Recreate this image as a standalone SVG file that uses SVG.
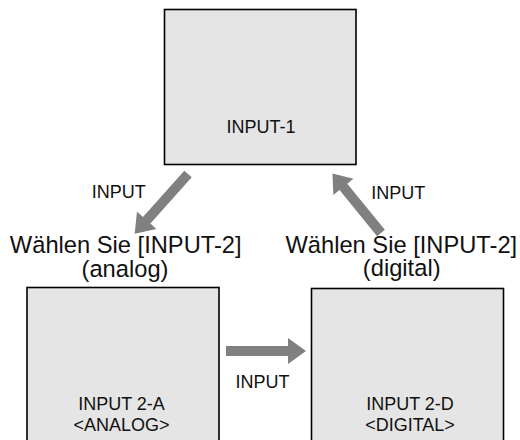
<svg xmlns="http://www.w3.org/2000/svg" xmlns:xlink="http://www.w3.org/1999/xlink" width="520" height="440" viewBox="0 0 520 440">
  <style>
    .box { fill: #e5e5e5; stroke: #000; stroke-width: 1.6; }
    .lbl { font-family: "Liberation Sans", Arial, sans-serif; font-size: 18px; fill: #111; text-anchor: middle; }
    .big { font-family: "Liberation Sans", Arial, sans-serif; font-size: 23.7px; fill: #111; text-anchor: middle; }
    .arr { fill: #808080; }
  </style>
  <defs>
    <polygon id="arrow" class="arr" points="0,-5 62,-5 62,-13 80,0 62,13 62,5 0,5"/>
  </defs>
  <rect width="520" height="440" fill="#fff"/>
  <g id="input1">
    <rect class="box" x="164.5" y="9.5" width="191.5" height="155"/>
    <text class="lbl" x="261" y="133">INPUT-1</text>
  </g>
  <g id="input2a">
    <rect class="box" x="27" y="287.5" width="192" height="160"/>
    <text class="lbl" x="121.5" y="410">INPUT 2-A</text>
    <text class="lbl" x="121.5" y="430.5">&lt;ANALOG&gt;</text>
  </g>
  <g id="input2d">
    <rect class="box" x="311.5" y="288.5" width="192" height="160"/>
    <text class="lbl" x="410" y="410">INPUT 2-D</text>
    <text class="lbl" x="410" y="430.5">&lt;DIGITAL&gt;</text>
  </g>
  <g id="connectors">
    <use xlink:href="#arrow" href="#arrow" transform="translate(188,174) rotate(131.8)"/>
    <use xlink:href="#arrow" href="#arrow" transform="translate(381,233) rotate(230.8) scale(0.96,1)"/>
    <use xlink:href="#arrow" href="#arrow" transform="translate(226,351)"/>
    <text class="lbl" x="118.7" y="197.7">INPUT</text>
    <text class="lbl" x="398.3" y="199.3">INPUT</text>
    <text class="lbl" x="262.5" y="388.3">INPUT</text>
  </g>
  <g id="captions">
    <text class="big" x="125.7" y="253.3">Wählen Sie [INPUT-2]</text>
    <text class="big" x="125" y="277">(analog)</text>
    <text class="big" x="401.3" y="253.3">Wählen Sie [INPUT-2]</text>
    <text class="big" x="401.7" y="276">(digital)</text>
  </g>
</svg>
